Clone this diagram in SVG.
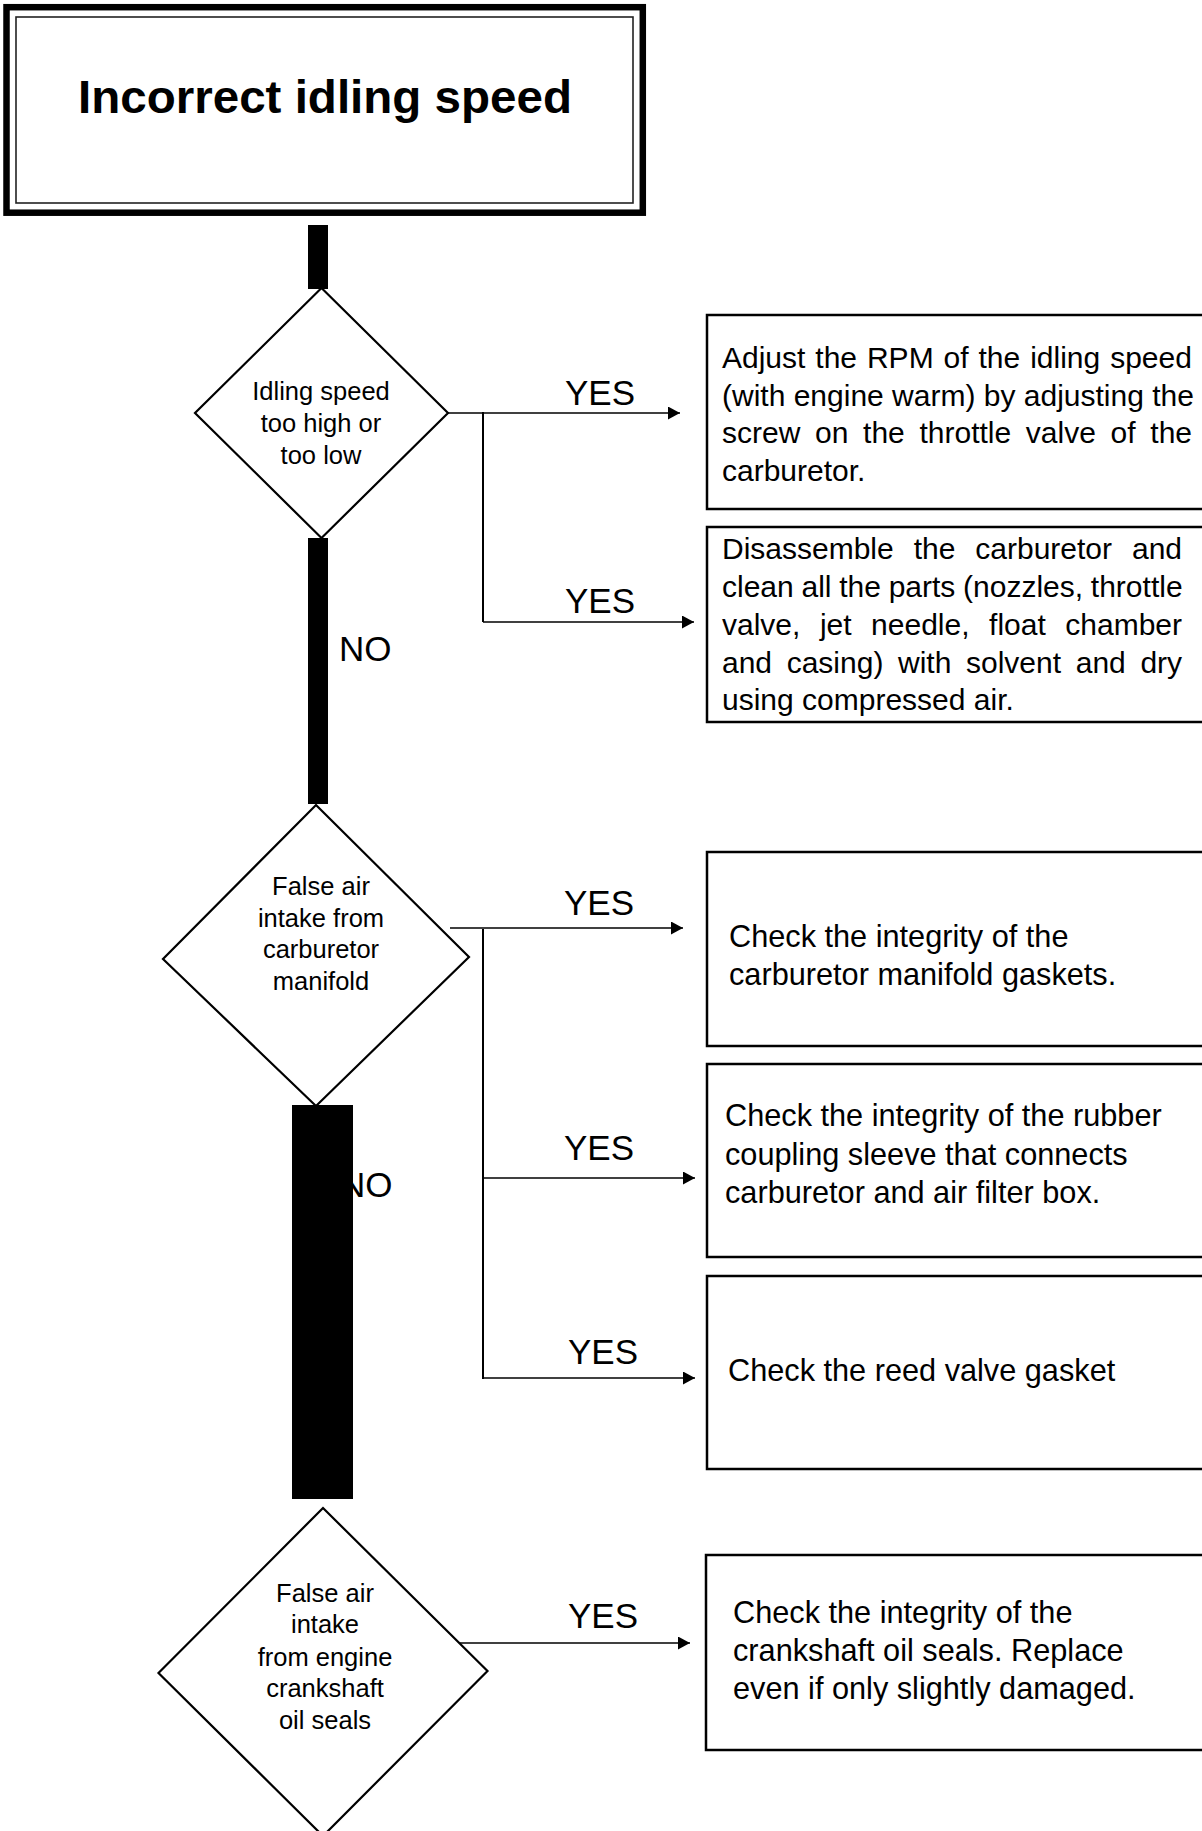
<svg xmlns="http://www.w3.org/2000/svg" width="1202" height="1831" viewBox="0 0 1202 1831">
<style>
.t{font-family:"Liberation Sans",Arial,Helvetica,sans-serif;fill:#000}
.title{font-size:46px;font-weight:bold;text-anchor:middle}
.dt{font-size:25.5px;text-anchor:middle}
.bt{font-size:30px}
.bt2{font-size:30.7px}
.lbl{font-size:35px}
.box{fill:#fff;stroke:#000;stroke-width:2.5}
.dia{fill:#fff;stroke:#000;stroke-width:2.2}
.arr{stroke:#000;stroke-width:1.4;fill:none;marker-end:url(#ah)}
.vl{stroke:#000;stroke-width:2;fill:none}
.bar{fill:#000}
</style>
<defs>
<marker id="ah" viewBox="0 0 12 13" refX="12" refY="6.5" markerWidth="12" markerHeight="13" markerUnits="userSpaceOnUse" orient="auto"><path d="M0,0 L12,6.5 L0,13 z" fill="#000"/></marker>
</defs>
<rect width="1202" height="1831" fill="#fff"/>

<g id="start">
<rect x="6.5" y="7.2" width="636.3" height="205.5" fill="#fff" stroke="#000" stroke-width="6.5"/>
<rect x="16" y="17" width="617" height="186" fill="none" stroke="#222" stroke-width="1.6"/>
<text class="t title" x="325" y="113" textLength="494" lengthAdjust="spacingAndGlyphs">Incorrect idling speed</text>
</g>

<g id="decision1">
<polygon class="dia" points="321.5,288 448,413 321.5,538 195,413"/>
<text class="t dt" x="321" y="400">Idling speed</text>
<text class="t dt" x="321" y="432">too high or</text>
<text class="t dt" x="321" y="464">too low</text>
</g>

<g id="action1">
<rect class="box" x="707" y="315" width="520" height="194"/>
<text class="t bt" x="722" y="368" word-spacing="1.6">Adjust the RPM of the idling speed</text>
<text class="t bt" x="722" y="406">(with engine warm) by adjusting the</text>
<text class="t bt" x="722" y="443" word-spacing="6.35">screw on the throttle valve of the</text>
<text class="t bt" x="722" y="481">carburetor.</text>
</g>

<g id="action2">
<rect class="box" x="707" y="527" width="520" height="195"/>
<text class="t bt" x="722" y="559" word-spacing="11.6">Disassemble the carburetor and</text>
<text class="t bt" x="722" y="597" word-spacing="-0.6">clean all the parts (nozzles, throttle</text>
<text class="t bt" x="722" y="635" word-spacing="11.2">valve, jet needle, float chamber</text>
<text class="t bt" x="722" y="673" word-spacing="6.3">and casing) with solvent and dry</text>
<text class="t bt" x="722" y="710">using compressed air.</text>
</g>

<g id="decision2">
<polygon class="dia" points="316,805 469,957 316,1106 163,959"/>
<text class="t dt" x="321" y="895">False air</text>
<text class="t dt" x="321" y="927">intake from</text>
<text class="t dt" x="321" y="958">carburetor</text>
<text class="t dt" x="321" y="990">manifold</text>
</g>

<g id="action3">
<rect class="box" x="707" y="852" width="520" height="194"/>
<text class="t bt2" x="729" y="947">Check the integrity of the</text>
<text class="t bt2" x="729" y="985">carburetor manifold gaskets.</text>
</g>

<g id="action4">
<rect class="box" x="707" y="1064" width="520" height="193"/>
<text class="t bt2" x="725" y="1126">Check the integrity of the rubber</text>
<text class="t bt2" x="725" y="1165">coupling sleeve that connects</text>
<text class="t bt2" x="725" y="1203">carburetor and air filter box.</text>
</g>

<g id="action5">
<rect class="box" x="707" y="1276" width="520" height="193"/>
<text class="t bt2" x="728" y="1381">Check the reed valve gasket</text>
</g>

<g id="decision3">
<polygon class="dia" points="323,1508 487.5,1671 323,1836 158.5,1673"/>
<text class="t dt" x="325" y="1602">False air</text>
<text class="t dt" x="325" y="1633">intake</text>
<text class="t dt" x="325" y="1666">from engine</text>
<text class="t dt" x="325" y="1697">crankshaft</text>
<text class="t dt" x="325" y="1729">oil seals</text>
</g>

<g id="action6">
<rect class="box" x="706" y="1555" width="520" height="195"/>
<text class="t bt2" x="733" y="1623">Check the integrity of the</text>
<text class="t bt2" x="733" y="1661">crankshaft oil seals. Replace</text>
<text class="t bt2" x="733" y="1699">even if only slightly damaged.</text>
</g>

<g id="connectors">
<text class="t lbl" x="565" y="405">YES</text>
<text class="t lbl" x="565" y="613">YES</text>
<text class="t lbl" x="339" y="661">NO</text>
<text class="t lbl" x="564" y="915">YES</text>
<text class="t lbl" x="564" y="1160">YES</text>
<text class="t lbl" x="568" y="1364">YES</text>
<text class="t lbl" x="340" y="1197">NO</text>
<text class="t lbl" x="568" y="1628">YES</text>

<line class="arr" x1="448" y1="413" x2="680" y2="413"/>
<line class="vl" x1="483" y1="412" x2="483" y2="622"/>
<line class="arr" x1="483" y1="622" x2="694" y2="622"/>

<line class="arr" x1="450" y1="928" x2="683" y2="928"/>
<line class="vl" x1="483" y1="929" x2="483" y2="1379"/>
<line class="arr" x1="483" y1="1178" x2="695" y2="1178"/>
<line class="arr" x1="483" y1="1378" x2="695" y2="1378"/>

<line class="arr" x1="460" y1="1643" x2="690" y2="1643"/>

<rect class="bar" x="308" y="225" width="20" height="64"/>
<rect class="bar" x="308" y="538" width="20" height="266"/>
<rect class="bar" x="292" y="1105" width="61" height="394"/>
</g>
</svg>
